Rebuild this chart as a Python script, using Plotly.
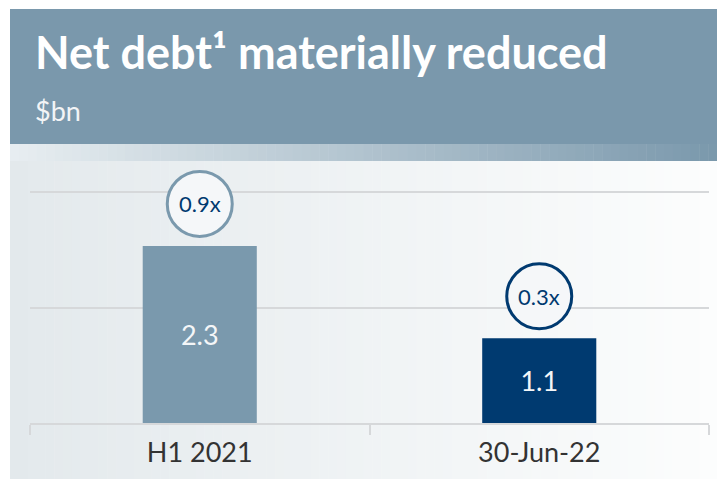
import plotly.graph_objects as go

categories = ["H1 2021", "30-Jun-22"]
net_debt = [2.3, 1.1]
leverage = ["0.9x", "0.3x"]
bar_colors = ["#7A99AD", "#003A70"]

W, H = 717, 479
ML, MR, MT, MB = 30, 8, 161, 56
PW, PH = W - ML - MR, H - MT - MB


def px(x):
    return (x - ML) / PW


def py(y):
    return (H - MB - y) / PH


def mix(c1, c2, t):
    a = [int(c1[i:i + 2], 16) for i in (1, 3, 5)]
    b = [int(c2[i:i + 2], 16) for i in (1, 3, 5)]
    return "rgb(%d,%d,%d)" % tuple(round(a[k] + (b[k] - a[k]) * t) for k in range(3))


shapes = []
# header band
shapes.append(dict(type="rect", xref="paper", yref="paper", x0=px(10), x1=px(W), y0=py(144), y1=py(9),
                   fillcolor="#7A98AC", line_width=0, layer="below"))
# gradient strip + panel background
n = 80
for i in range(n):
    x0 = 10 + (W - 10) * i / n
    x1 = 10 + (W - 10) * (i + 1) / n + 0.5
    t = (i + 0.5) / n
    shapes.append(dict(type="rect", xref="paper", yref="paper", x0=px(x0), x1=px(x1), y0=py(161), y1=py(144),
                       fillcolor=mix("#E8EEF1", "#7A98AC", t), line_width=0, layer="below"))
    shapes.append(dict(type="rect", xref="paper", yref="paper", x0=px(x0), x1=px(x1), y0=py(H), y1=py(161),
                       fillcolor=mix("#E3E9EC", "#FCFDFD", t), line_width=0, layer="below"))

# leverage circles above bars
R, GAP = 34, 8
for cat, v, col in zip(categories, net_debt, bar_colors):
    shapes.append(dict(type="circle", xref="x", yref="y", xsizemode="pixel", ysizemode="pixel",
                       xanchor=cat, yanchor=v, x0=-R + 1.5, x1=R - 1.5, y0=GAP + 1.5, y1=GAP + 2 * R - 1.5,
                       fillcolor="#F5F7F9", line=dict(color=col, width=3), layer="above"))

fig = go.Figure(go.Bar(
    x=categories, y=net_debt, marker=dict(color=bar_colors, line_width=0),
    text=[f"{v:.1f}" for v in net_debt], textposition="inside", insidetextanchor="middle",
    textfont=dict(family="Lato", size=27, color="#F4F6F8"), hoverinfo="skip",
))

annotations = [
    dict(xref="paper", yref="paper", x=px(33), y=py(81), xanchor="left", yanchor="bottom",
         text="<b>Net debt¹ materially reduced</b>", showarrow=False,
         font=dict(family="Lato", size=45, color="#FFFFFF")),
    dict(xref="paper", yref="paper", x=px(33), y=py(129), xanchor="left", yanchor="bottom",
         text="$bn", showarrow=False, font=dict(family="Lato", size=27, color="#F2F4F6")),
]
for cat, v, lab in zip(categories, net_debt, leverage):
    annotations.append(dict(x=cat, y=v, xref="x", yref="y", yanchor="middle", yshift=GAP + R,
                            text=lab, showarrow=False,
                            font=dict(family="Lato", size=22, color="#003A70")))

fig.update_layout(
    width=W, height=H,
    margin=dict(l=ML, r=MR, t=MT, b=MB),
    paper_bgcolor="#FFFFFF", plot_bgcolor="rgba(0,0,0,0)",
    bargap=0.664, showlegend=False,
    shapes=shapes, annotations=annotations,
    xaxis=dict(showline=True, linecolor="#D6D8DA", linewidth=2, ticks="outside", tickson="boundaries",
               ticklen=10, tickcolor="#D6D8DA", tickwidth=2, showgrid=False, ticklabelstandoff=5,
               tickfont=dict(family="Lato", size=27, color="#333333")),
    yaxis=dict(range=[0, 1.5 * PH / 115.5], dtick=1.5, showticklabels=False, showgrid=True,
               gridcolor="#D6D8DA", gridwidth=2, zeroline=False),
)

fig.write_html("out.html", config={"displayModeBar": False},
               post_script="document.body.style.margin='0';")
